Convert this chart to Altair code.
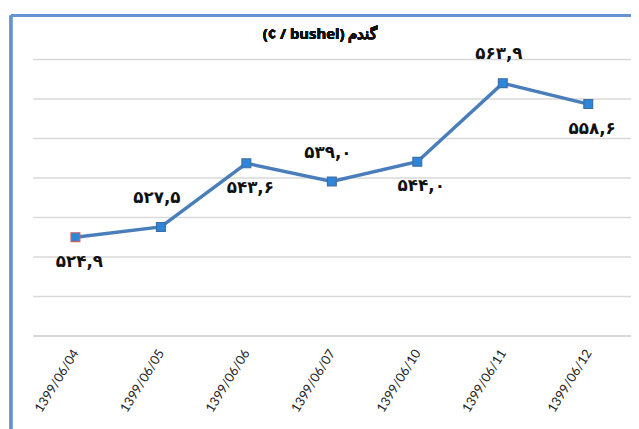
import altair as alt
import pandas as pd

dates = ["1399/06/04", "1399/06/05", "1399/06/06", "1399/06/07",
         "1399/06/10", "1399/06/11", "1399/06/12"]
prices = [524.9, 527.5, 543.6, 539.0, 544.0, 563.9, 558.6]
labels = ["۵۲۴,۹", "۵۲۷,۵", "۵۴۳,۶", "۵۳۹,۰", "۵۴۴,۰", "۵۶۳,۹", "۵۵۸,۶"]
title_text = "\u202bگندم \u2066(¢ / bushel)\u2069\u202c"
y_ticks = [500, 510, 520, 530, 540, 550, 560, 570]

df = pd.DataFrame({"date": dates, "price": prices, "label": labels})

above = ["1399/06/05", "1399/06/07", "1399/06/11"]

W, H = 606, 280

x = alt.X("date:O", sort=dates, title=None,
          scale=alt.Scale(type="point", padding=0.5),
          axis=alt.Axis(labelAngle=-58, labelAlign="right", labelBaseline="middle",
                        labelFont="Lato", labelFontSize=13, labelColor="#222",
                        labelPadding=15, ticks=False, domainColor="#d4d4d4",
                        domainWidth=1.5, grid=False))
y = alt.Y("price:Q", title=None,
          scale=alt.Scale(domain=[500, 570], nice=False, zero=False),
          axis=alt.Axis(values=y_ticks, labels=False, ticks=False, domain=False,
                        gridColor="#d9d9d9", gridWidth=1.5))

base = alt.Chart(df)

line = base.mark_line(color="#4a7ebb", strokeWidth=3.5).encode(x=x, y=y)

points = base.mark_point(shape="square", filled=True, size=80, opacity=1,
                         fill="#2f86d8", strokeWidth=1.2).encode(
    x=x, y=y,
    stroke=alt.condition(alt.datum.date == dates[0], alt.value("#d0605a"), alt.value("#3d6fa6")),
)

txt_above = base.mark_text(font="DejaVu Sans", fontWeight="bold", fontSize=17,
                           color="#111", dy=-29, dx=-4).encode(
    x=x, y=y, text="label:N").transform_filter(
    alt.FieldOneOfPredicate(field="date", oneOf=above))
txt_below = base.mark_text(font="DejaVu Sans", fontWeight="bold", fontSize=17,
                           color="#111", dy=25, dx=4).encode(
    x=x, y=y, text="label:N").transform_filter(
    ~alt.FieldOneOfPredicate(field="date", oneOf=above))

title = base.mark_text(font="Open Sans", fontSize=15, fontWeight="bold",
                       color="#111", align="center", baseline="middle").encode(
    x=alt.value(W / 2 - 12), y=alt.value(-25), text=alt.value(title_text))

frame_v = base.mark_rule(color="#6592d0", strokeWidth=2.5).encode(
    x=alt.value(-22), y=alt.value(-44), y2=alt.value(380))
frame_h = base.mark_rule(color="#6592d0", strokeWidth=2.5).encode(
    x=alt.value(-22), x2=alt.value(W + 10), y=alt.value(-44))

chart = alt.layer(frame_v, frame_h, line, points, txt_above, txt_below, title).properties(
    width=W, height=H,
    autosize=alt.AutoSizeParams(type="none"),
    padding={"left": 25, "top": 49, "right": 0, "bottom": 92},
).configure_view(stroke=None)

chart.save("out.html", embed_options={"renderer": "svg", "actions": False})
